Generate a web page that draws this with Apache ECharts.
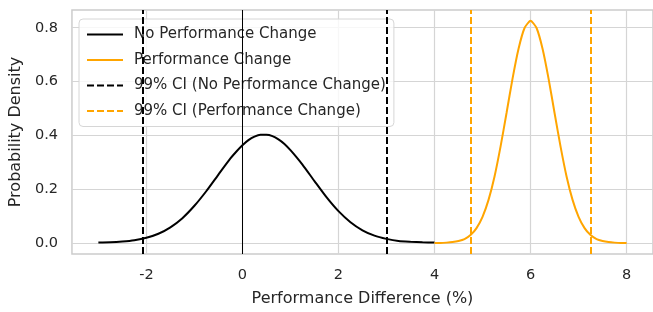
<!DOCTYPE html>
<html>
<head>
<meta charset="utf-8">
<script src="https://cdn.jsdelivr.net/npm/echarts@6/dist/echarts.min.js"></script>
<style>
  html, body { margin: 0; padding: 0; background: #fff; }
  #chart { width: 653px; height: 312px; }
</style>
</head>
<body>
<div id="chart"></div>
<script>
// values
var noChangeX = [-3, -2.75, -2.5, -2.25, -2, -1.75, -1.5, -1.25, -1, -0.75, -0.5, -0.25, -0.125, 0, 0.125, 0.25, 0.375, 0.5,
                 0.625, 0.75, 0.875, 1, 1.125, 1.25, 1.5, 1.75, 2, 2.25, 2.5, 2.75, 3, 3.25, 3.5, 3.75, 4];
var noChangeY = [0.001, 0.002, 0.005, 0.010, 0.019, 0.034, 0.058, 0.092, 0.138, 0.193, 0.254, 0.314, 0.340, 0.363, 0.382, 0.395, 0.402, 0.402,
                 0.397, 0.385, 0.368, 0.345, 0.319, 0.291, 0.230, 0.170, 0.118, 0.077, 0.047, 0.027, 0.015, 0.007, 0.004, 0.002, 0.001];

var changeX = [4, 4.125, 4.25, 4.375, 4.5, 4.625, 4.75, 4.875, 5, 5.125, 5.25, 5.375, 5.5, 5.625, 5.75, 5.875, 6,
               6.125, 6.25, 6.375, 6.5, 6.625, 6.75, 6.875, 7, 7.125, 7.25, 7.375, 7.5, 7.625, 7.75, 7.875, 8];
var changeY = [0.000, 0.000, 0.001, 0.003, 0.007, 0.014, 0.029, 0.055, 0.097, 0.160, 0.247, 0.358, 0.483, 0.611, 0.722, 0.799, 0.826,
               0.799, 0.722, 0.611, 0.483, 0.358, 0.247, 0.160, 0.097, 0.055, 0.029, 0.014, 0.007, 0.003, 0.001, 0.000, 0.000];

var ciNoChange = [-2.08, 3.01];
var ciChange = [4.76, 7.245];

var xTicks = [-2, 0, 2, 4, 6, 8];
var yTicks = [0, 0.2, 0.4, 0.6, 0.8];

var ORANGE = '#ffa500';
var FONT = 'DejaVu Sans';
var TEXT = '#262626';

function zip(xs, ys) {
    return xs.map(function (x, i) { return [x, ys[i]]; });
}

function vlines(xs, color) {
    return {
        silent: true,
        symbol: ['none', 'none'],
        label: { show: false },
        lineStyle: { color: color, width: 2, type: [7, 3] },
        data: xs.map(function (x) { return { xAxis: x }; })
    };
}

var chart = echarts.init(document.getElementById('chart'), null, { renderer: 'canvas' });

chart.setOption({
    animation: false,
    textStyle: { fontFamily: FONT },
    grid: {
        left: 70, top: 10, width: 586, height: 246,
        show: true, borderColor: '#cccccc', borderWidth: 1.5
    },
    legend: {
        orient: 'vertical',
        left: 79, top: 19,
        padding: [8, 8, 8, 7],
        itemWidth: 36, itemHeight: 14, itemGap: 10.5,
        backgroundColor: 'rgba(255,255,255,0.8)',
        borderColor: '#d6d6d6', borderWidth: 1, borderRadius: 4,
        itemStyle: { opacity: 0 },
        textStyle: { fontFamily: FONT, fontSize: 15, color: TEXT, padding: [0, 0, 0, 6] },
        data: ['No Performance Change', 'Performance Change',
               '99% CI (No Performance Change)', '99% CI (Performance Change)']
    },
    xAxis: {
        type: 'value', min: -3.55, max: 8.55,
        name: 'Performance Difference (%)', nameLocation: 'middle', nameGap: 37,
        nameTextStyle: { fontFamily: FONT, fontSize: 16, color: TEXT },
        axisLine: { show: false },
        axisTick: { show: false, customValues: xTicks },
        axisLabel: { customValues: xTicks, margin: 14, fontSize: 14.5, color: TEXT, fontFamily: FONT },
        splitLine: { show: true, lineStyle: { color: '#d5d5d5', width: 1.2 } }
    },
    yAxis: {
        type: 'value', min: -0.0413, max: 0.866,
        name: 'Probability Density', nameLocation: 'middle', nameGap: 42,
        nameTextStyle: { fontFamily: FONT, fontSize: 16, color: TEXT },
        axisLine: { show: false },
        axisTick: { show: false, customValues: yTicks },
        axisLabel: {
            customValues: yTicks, margin: 14, fontSize: 14.5, color: TEXT, fontFamily: FONT,
            formatter: function (v) { return v.toFixed(1); }
        },
        splitLine: { show: true, lineStyle: { color: '#d5d5d5', width: 1.2 } }
    },
    series: [
        {
            name: 'No Performance Change', type: 'line', symbol: 'none', smooth: 0.2,
            lineStyle: { color: '#000', width: 2 }, itemStyle: { color: '#000' },
            data: zip(noChangeX, noChangeY),
            markLine: {
                silent: true, symbol: ['none', 'none'], label: { show: false },
                lineStyle: { color: '#000', width: 1, type: 'solid' },
                data: [{ xAxis: 0 }]
            }
        },
        {
            name: 'Performance Change', type: 'line', symbol: 'none', smooth: 0.2,
            lineStyle: { color: ORANGE, width: 2 }, itemStyle: { color: ORANGE },
            data: zip(changeX, changeY)
        },
        {
            name: '99% CI (No Performance Change)', type: 'line', symbol: 'none',
            lineStyle: { color: '#000', width: 2, type: [7, 3] }, itemStyle: { color: '#000' },
            data: [],
            markLine: vlines(ciNoChange, '#000')
        },
        {
            name: '99% CI (Performance Change)', type: 'line', symbol: 'none',
            lineStyle: { color: ORANGE, width: 2, type: [7, 3] }, itemStyle: { color: ORANGE },
            data: [],
            markLine: vlines(ciChange, ORANGE)
        }
    ]
});
</script>
</body>
</html>
